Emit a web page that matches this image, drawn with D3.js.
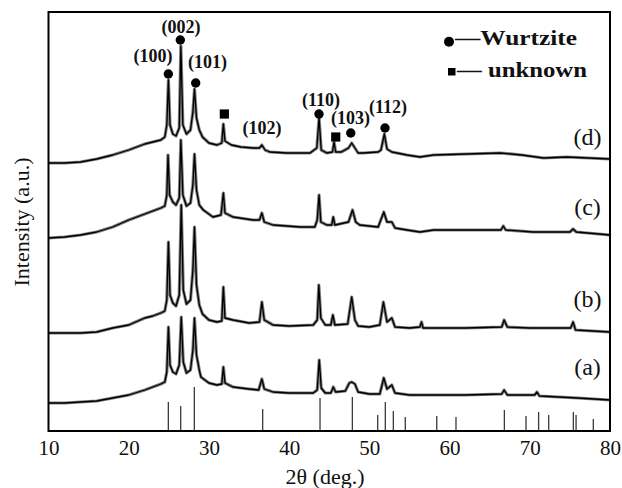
<!DOCTYPE html>
<html>
<head>
<meta charset="utf-8">
<script src="https://cdn.jsdelivr.net/npm/d3@7"></script>
<style>
  body { margin: 0; background: #fff; }
  text { font-family: "Liberation Serif", "Times New Roman", serif; fill: #111; }
</style>
</head>
<body>
<svg id="chart" width="622" height="488"></svg>
<script>
// ---- data ---------------------------------------------------------------
const xTicks = [10, 20, 30, 40, 50, 60, 70, 80];

const sampleNames = ["(a)", "(b)", "(c)", "(d)"];
// vertical stacking offset of each pattern (a.u.)
const sampleOffsets = [28, 98, 193, 268];
// where each sample's name sits: [2θ, a.u.]
const sampleLabelPos = [[77.2, 56], [77.2, 124], [77.2, 216], [77.2, 286]];

// measured patterns, [2θ (deg), intensity (a.u.)]
const patternA = [
  [10,0],[12,0],[14,1],[16,2],[18,5],[20,8],[22,13],[23,16],[24,19],[24.5,21],
  [24.75,31],[24.95,76],[25.15,38],[25.5,31],[25.9,29],[26.3,38],[26.55,86],[26.8,41],
  [27.2,30],[27.7,33],[28.0,53],[28.2,85],[28.45,48],[28.8,33],[29,26],[30,20],[31,18],
  [31.6,19],[31.8,36],[32.0,20],[33,16],[35,14],[36.2,13],[36.6,24],[36.9,14],[38,11],
  [40,10],[43,10],[43.5,13],[43.75,43],[44.0,15],[44.5,10],[45.2,10],[45.5,16],[45.8,11],
  [47.0,12],[47.5,20],[47.8,21],[48.2,19],[48.6,11],[50,9],[51.3,9],[51.8,25],[52.2,14],
  [52.8,18],[53.2,10],[55,8],[58,8],[62,8],[66.5,9],[66.8,13],[67.2,8],[70.6,8],[70.9,11],
  [71.2,7],[76,5],[80,3]
];
const patternB = [
  [10,0],[12,0],[14,0],[16,1],[18,5],[20,8],[22,15],[23,17],[24,20],[24.5,22],
  [24.75,33],[24.95,91],[25.15,38],[25.5,30],[25.9,27],[26.3,38],[26.55,128],[26.8,43],
  [27.2,29],[27.7,33],[28.0,63],[28.2,106],[28.45,48],[28.8,28],[29.2,19],[30,13],[31,11],
  [31.6,12],[31.8,46],[32.0,15],[33,13],[35,10],[36.3,11],[36.6,31],[36.9,13],[38,8],
  [40,7],[43,8],[43.5,13],[43.7,48],[43.95,15],[44.5,8],[45.2,8],[45.45,18],[45.7,8],
  [47.3,9],[47.8,36],[48.2,13],[48.6,7],[50,6],[51.3,8],[51.75,31],[52.2,11],[52.8,15],
  [53.2,6],[55,5],[56.3,6],[56.5,11],[56.7,5],[62,5],[66.5,6],[66.8,13],[67.2,6],[70,5],
  [72,5],[75.1,5],[75.4,11],[75.7,3],[80,1]
];
const patternC = [
  [10,0],[12,1],[14,3],[16,6],[18,11],[20,18],[22,24],[23,27],[24,30],[24.5,32],
  [24.75,43],[24.9,83],[25.1,43],[25.5,36],[25.9,33],[26.3,40],[26.5,98],[26.75,43],
  [27.2,32],[27.7,35],[28.0,53],[28.2,84],[28.45,48],[28.8,33],[29.3,28],[30.5,21],
  [31.5,23],[31.8,45],[32.0,25],[33,21],[35.5,18],[36.3,18],[36.6,25],[36.9,16],[38,13],
  [41.4,11],[43.2,11],[43.5,18],[43.73,43],[43.95,16],[44.7,13],[45.3,13],[45.5,21],
  [45.7,13],[47.4,16],[47.9,28],[48.3,16],[48.8,13],[51.1,11],[51.8,26],[52.2,16],
  [52.8,16],[53.2,10],[54.7,8],[56.3,6],[58,8],[62,8],[66.4,8],[66.7,12],[67.0,8],
  [70.4,6],[75,6],[75.4,9],[75.8,6],[80,3]
];
const patternD = [
  [10,0],[12,0],[14,1],[16,4],[18,8],[20,13],[22,19],[23,21],[24,23],[24.5,26],
  [24.75,38],[24.95,83],[25.15,38],[25.5,29],[25.9,27],[26.3,35],[26.5,117],[26.75,38],
  [27.2,29],[27.7,33],[28.0,51],[28.2,74],[28.45,45],[28.8,33],[29.2,26],[30,20],[31,18],
  [31.6,20],[31.8,39],[32.0,22],[32.8,18],[34,16],[35.5,15],[36.3,15],[36.6,18],[37.0,13],
  [37.6,11],[39.7,10],[42.6,10],[43.45,15],[43.73,45],[44.0,13],[44.7,10],[45.4,11],
  [45.6,21],[45.8,11],[46.5,11],[47.4,15],[47.8,20],[48.2,15],[48.6,10],[49.2,10],
  [51.1,11],[51.45,13],[51.87,29],[52.2,14],[52.8,11],[54.7,8],[56.3,6],[58,8],[62.1,9],
  [66.3,10],[69,8],[71.7,5],[74.6,6],[80,4]
];
const patterns = [patternA, patternB, patternC, patternD];

// reference stick pattern (wurtzite), 2θ and relative height (a.u.)
const refPeaks = [24.94, 26.48, 28.18, 36.7, 43.85, 47.88, 51.04, 51.99, 52.99, 54.48,
                  58.4, 60.8, 66.83, 69.53, 71.1, 72.36, 75.43, 75.77, 77.92];
const refIntensity = [29, 25, 44, 22, 33, 34, 16, 29, 20, 14,
                      15, 14, 21, 15, 19, 16, 19, 16, 12];

// phase markers above the top pattern: [2θ, a.u.]
const wurtziteMarks = [[24.94, 357], [26.43, 391], [28.35, 348], [43.72, 317], [47.68, 298], [51.95, 303]];
const unknownMarks = [[31.92, 317], [45.81, 294]];

// Miller-index labels: text and anchor [2θ, a.u.]
const hklText = ["(100)", "(002)", "(101)", "(102)", "(110)", "(103)", "(112)"];
const hklPos = [[23.03, 369], [26.52, 398], [29.82, 363], [36.62, 297], [43.97, 325], [47.65, 307], [52.33, 318]];

const legendItems = ["\u2014Wurtzite", "\u2014 unknown"];

// ---- drawing ------------------------------------------------------------
const svg = d3.select("#chart");
const plot = { left: 48.5, right: 610, top: 12, bottom: 431 };

const x = d3.scaleLinear().domain([10, 80]).range([plot.left, plot.right]);
const y = d3.scaleLinear().domain([0, 419]).range([plot.bottom, plot.top]);

// reference sticks
svg.append("g")
  .selectAll("line")
  .data(refPeaks)
  .join("line")
  .attr("x1", d => x(d)).attr("x2", d => x(d))
  .attr("y1", y(0))
  .attr("y2", (d, i) => y(refIntensity[i]))
  .attr("stroke", "#3a3a3a")
  .attr("stroke-width", 1.3);

// patterns: a soft wide underlay suggests the counting noise, a thin line on top
patterns.forEach((p, i) => {
  const line = d3.line()
    .x(d => x(d[0]))
    .y(d => y(d[1] + sampleOffsets[i]));
  svg.append("path").datum(p)
    .attr("d", line).attr("fill", "none")
    .attr("stroke", "#000").attr("stroke-opacity", 0.5)
    .attr("stroke-width", 3.2).attr("stroke-linejoin", "round");
  svg.append("path").datum(p)
    .attr("d", line).attr("fill", "none")
    .attr("stroke", "#000").attr("stroke-width", 1.3)
    .attr("stroke-linejoin", "round");
});

// sample names
svg.append("g")
  .selectAll("text")
  .data(sampleNames)
  .join("text")
  .attr("x", (d, i) => x(sampleLabelPos[i][0]))
  .attr("y", (d, i) => y(sampleLabelPos[i][1]))
  .attr("text-anchor", "middle")
  .attr("font-size", 24)
  .text(d => d);

// phase markers
svg.append("g")
  .selectAll("circle")
  .data(wurtziteMarks)
  .join("circle")
  .attr("cx", d => x(d[0])).attr("cy", d => y(d[1]))
  .attr("r", 4.7).attr("fill", "#000");
svg.append("g")
  .selectAll("rect")
  .data(unknownMarks)
  .join("rect")
  .attr("x", d => x(d[0]) - 4.6).attr("y", d => y(d[1]) - 4.6)
  .attr("width", 9.2).attr("height", 9.2).attr("fill", "#000");

// Miller indices
svg.append("g")
  .selectAll("text")
  .data(hklText)
  .join("text")
  .attr("x", (d, i) => x(hklPos[i][0]))
  .attr("y", (d, i) => y(hklPos[i][1]))
  .attr("text-anchor", "middle")
  .attr("font-size", 18)
  .attr("font-weight", "bold")
  .text(d => d);

// legend
const legend = svg.append("g");
legend.append("circle").attr("cx", 449).attr("cy", 41.7).attr("r", 5).attr("fill", "#000");
legend.append("rect").attr("x", 448).attr("y", 68).attr("width", 7.5).attr("height", 7.5).attr("fill", "#000");
const legendWidths = [122, 130];
legend.selectAll("text")
  .data(legendItems)
  .join("text")
  .attr("x", (d, i) => i === 0 ? 455 : 457)
  .attr("y", (d, i) => i === 0 ? 45 : 77)
  .attr("font-size", 21)
  .attr("font-weight", "bold")
  .attr("textLength", (d, i) => legendWidths[i])
  .attr("lengthAdjust", "spacingAndGlyphs")
  .text(d => d);

// x axis (labels only; frame drawn below)
const xAxis = svg.append("g")
  .attr("transform", `translate(0,${plot.bottom})`)
  .call(d3.axisBottom(x).tickValues(xTicks).tickSize(0).tickFormat(d3.format("d")));
xAxis.select(".domain").remove();
xAxis.selectAll("text")
  .attr("y", 24).attr("dy", null)
  .attr("font-size", 21)
  .attr("font-family", "Liberation Serif, Times New Roman, serif")
  .attr("fill", "#111");

svg.append("text")
  .attr("x", 325).attr("y", 484)
  .attr("text-anchor", "middle")
  .attr("font-size", 22)
  .text("2\u03B8 (deg.)");

svg.append("text")
  .attr("transform", "translate(29,222) rotate(-90)")
  .attr("text-anchor", "middle")
  .attr("font-size", 22)
  .text("Intensity (a.u.)");

// plot frame
svg.append("rect")
  .attr("x", plot.left).attr("y", plot.top)
  .attr("width", plot.right - plot.left).attr("height", plot.bottom - plot.top)
  .attr("fill", "none").attr("stroke", "#000").attr("stroke-width", 2);
</script>
</body>
</html>
